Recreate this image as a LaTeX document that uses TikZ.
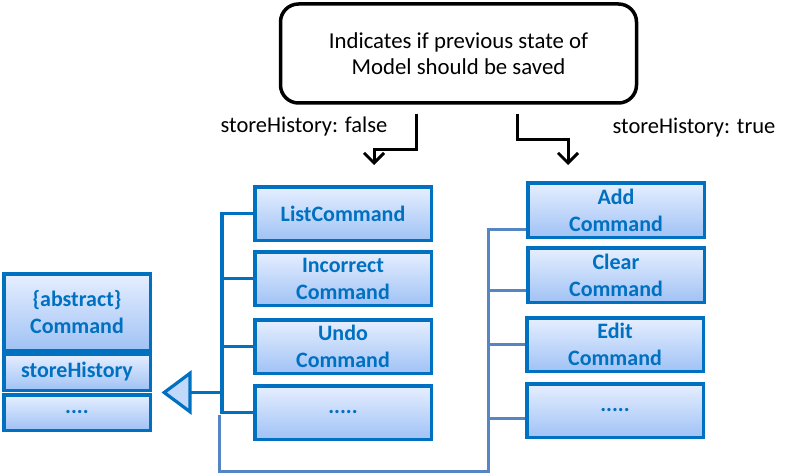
\documentclass[tikz,border=0pt]{standalone}
\usepackage{fontspec}
\setmainfont{Carlito}
\usetikzlibrary{arrows.meta,calc}
\definecolor{cblue}{HTML}{0070C0}
\definecolor{ftop}{HTML}{E6EFFF}
\definecolor{fbot}{HTML}{A0C2F5}
\definecolor{lbus}{HTML}{5585C2}
\definecolor{trifill}{HTML}{C2D8FA}
\begin{document}
\begin{tikzpicture}[x=1pt,y=-1pt,
  cls/.style={draw=cblue, line width=3.5pt, top color=ftop, bottom color=fbot,
    text=cblue, font=\fontsize{22}{27}\selectfont\bfseries, align=center,
    inner sep=0pt, minimum width=176.5pt, minimum height=53.5pt},
  cmdpart/.style={cls, minimum width=146.5pt},
  note/.style={draw=black, line width=3.5pt, rounded corners=18pt, fill=white,
    font=\fontsize{22.8}{26}\selectfont, align=center, inner sep=0pt,
    minimum width=356pt, minimum height=99pt},
  lbl/.style={font=\fontsize{22.5}{26}\selectfont, inner sep=0pt},
  flow/.style={draw=black, line width=3pt, -{Straight Barb[length=10pt,width=20pt]}},
  dbus/.style={draw=cblue, line width=3.2pt},
  lbusline/.style={draw=lbus, line width=3pt},
  gen/.style={dbus, -{Triangle[length=30pt,width=44pt,fill=trifill]}}]
\useasboundingbox (0,0) rectangle (795,476);

% note box
\node[note] (top) at (458.5,53.5) {Indicates if previous state of\\Model should be saved};
\node[lbl] (lfalse) at (304,127) {storeHistory: false};
\node[lbl] (ltrue) at (694,128) {storeHistory: true};

% Command class
\node[cmdpart, minimum height=76.5pt] (cmdTop) at (77,312) {\{abstract\}\\Command};
\node[cmdpart, minimum height=36.5pt] (cmdAttr) at (77,372) {storeHistory};
\node[cmdpart, minimum height=35.5pt] (cmdOps) at (77,412.5) {....};

% middle column
\node[cls] (list) at (343,213.5) {ListCommand};
\node[cls] (incorrect) at (343,278.5) {Incorrect\\Command};
\node[cls] (undo) at (343,346.5) {Undo\\Command};
\node[cls] (ldots) at (343,412.5) {.....};

% right column
\node[cls, minimum height=54.5pt] (add) at (616,210) {Add\\Command};
\node[cls, minimum height=54.5pt] (clear) at (616,275) {Clear\\Command};
\node[cls] (edit) at (615,344.5) {Edit\\Command};
\node[cls] (rdots) at (615,410.5) {.....};

% flow arrows from the note
\coordinate (fa) at ([xshift=-42.5pt,yshift=-9pt]top.south);
\coordinate (fb) at ([xshift=58.5pt,yshift=-9pt]top.south);
\coordinate (faEnd) at (374,165);
\coordinate (fbEnd) at (568,165);
\draw[flow] (fa) -- (fa |- 0,150) -| (faEnd);
\draw[flow] (fb) -- (fb |- 0,140) -| (fbEnd);

% dark bus
\coordinate (bx) at (222,0);
\draw[dbus] (list.west) -- (list.west -| bx) -- (ldots.west -| bx) -- (ldots.west);
\draw[dbus] (incorrect.west) -- (incorrect.west -| bx);
\draw[dbus] (undo.west) -- (undo.west -| bx);
\draw[gen] ([yshift=-0.5pt]cmdAttr.south -| bx) -- ([xshift=9.5pt,yshift=-0.5pt]cmdAttr.south east);

% light bus
\coordinate (ls) at (219,415);
\coordinate (rb1) at (488,229);
\coordinate (rb2) at (488,290);
\coordinate (rb3) at (488,344);
\coordinate (rb4) at (488,418);
\draw[lbusline] (ls) -- (219,471) -- (488,471) -- (rb1) -- (rb1 -| add.west);
\draw[lbusline] (rb2) -- (rb2 -| clear.west);
\draw[lbusline] (rb3) -- (rb3 -| edit.west);
\draw[lbusline] (rb4) -- (rb4 -| rdots.west);
\end{tikzpicture}
\end{document}
